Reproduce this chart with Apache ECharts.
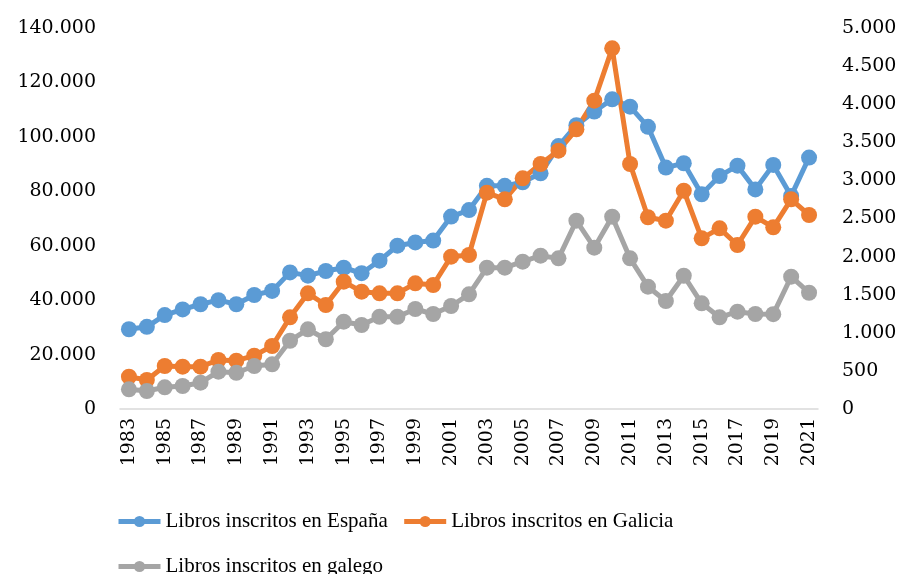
<!DOCTYPE html>
<html>
<head>
<meta charset="utf-8">
<script src="https://cdn.jsdelivr.net/npm/echarts@6/dist/echarts.min.js"></script>
<style>
    html, body { margin: 0; padding: 0; background: #fff; }
    #chart { width: 902px; height: 574px; }
</style>
</head>
<body>
<div id="chart"></div>
<script>
var years = [];
for (var y = 1983; y <= 2021; y++) {
    years.push(String(y));
}

// Libros inscritos en España (eixo esquerdo)
var espana = [29300, 30200, 34500, 36600, 38500, 40000, 38500, 41900, 43400, 50200,
    49000, 50700, 51900, 49900, 54500, 60000, 61200, 61900, 70700, 73100,
    82000, 82000, 83300, 86600, 96600, 104300, 109300, 113800, 111100, 103700,
    88700, 90300, 78900, 85600, 89400, 80700, 89700, 78300, 92400];

// Libros inscritos en Galicia (eixo dereito)
var galicia = [424, 381, 564, 555, 555, 643, 634, 700, 827, 1203,
    1518, 1365, 1671, 1540, 1518, 1518, 1649, 1627, 1999, 2021,
    2839, 2752, 3027, 3215, 3390, 3670, 4046, 4733, 3215, 2516,
    2471, 2865, 2240, 2371, 2152, 2524, 2384, 2752, 2546];

// Libros inscritos en galego (eixo dereito)
var galego = [258, 236, 285, 302, 345, 490, 476, 564, 586, 896,
    1046, 915, 1146, 1102, 1211, 1211, 1312, 1247, 1352, 1505,
    1855, 1855, 1933, 2012, 1977, 2471, 2117, 2524, 1977, 1605,
    1417, 1749, 1387, 1203, 1277, 1247, 1245, 1736, 1526];

var seriesNames = ["Libros inscritos en España", "Libros inscritos en Galicia", "Libros inscritos en galego"];
var colors = ["#5B9BD5", "#ED7D31", "#A5A5A5"];

var numFont = "DejaVu Serif";
var textFont = "Liberation Serif";

function thousands(v) {
    return String(v).replace(/\B(?=(\d{3})+(?!\d))/g, ".");
}

function lineSeries(name, data, axisIdx, color) {
    return {
        name: name,
        type: "line",
        yAxisIndex: axisIdx,
        data: data,
        symbol: "circle",
        symbolSize: 16,
        showAllSymbol: true,
        lineStyle: { width: 5, color: color },
        itemStyle: { color: color },
        animation: false
    };
}

var legendText = { fontFamily: textFont, fontSize: 21, color: "#000" };

var option = {
    grid: { left: 120, right: 84, top: 28, bottom: 165 },
    legend: [
        {
            data: [seriesNames[0], seriesNames[1]],
            left: 111,
            top: 506,
            itemWidth: 42,
            itemHeight: 14,
            itemGap: 14,
            lineStyle: { width: 5 },
            textStyle: legendText
        },
        {
            data: [seriesNames[2]],
            left: 111,
            top: 551,
            itemWidth: 42,
            itemHeight: 14,
            lineStyle: { width: 5 },
            textStyle: legendText
        }
    ],
    xAxis: {
        type: "category",
        data: years,
        boundaryGap: true,
        axisLine: { lineStyle: { color: "#d9d9d9", width: 1.5 } },
        axisTick: { show: false },
        axisLabel: {
            interval: 1,
            rotate: 90,
            margin: 9,
            fontFamily: numFont,
            fontSize: 19,
            color: "#000"
        }
    },
    yAxis: [
        {
            type: "value",
            min: 0,
            max: 140000,
            interval: 20000,
            splitLine: { show: false },
            axisLine: { show: false },
            axisTick: { show: false },
            axisLabel: {
                margin: 24,
                fontFamily: numFont,
                fontSize: 19,
                color: "#000",
                formatter: thousands
            }
        },
        {
            type: "value",
            min: 0,
            max: 5000,
            interval: 500,
            splitLine: { show: false },
            axisLine: { show: false },
            axisTick: { show: false },
            axisLabel: {
                margin: 24,
                fontFamily: numFont,
                fontSize: 19,
                color: "#000",
                formatter: thousands
            }
        }
    ],
    series: [
        lineSeries(seriesNames[0], espana, 0, colors[0]),
        lineSeries(seriesNames[1], galicia, 1, colors[1]),
        lineSeries(seriesNames[2], galego, 1, colors[2])
    ]
};

var chart = echarts.init(document.getElementById("chart"));
chart.setOption(option);
</script>
</body>
</html>
